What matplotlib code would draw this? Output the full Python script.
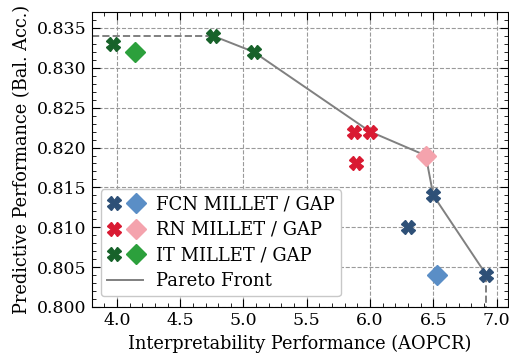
import matplotlib
matplotlib.use("Agg")
import matplotlib.pyplot as plt
from matplotlib.legend_handler import HandlerTuple
from matplotlib.ticker import MultipleLocator

plt.rcParams["font.family"] = "DejaVu Serif"
plt.rcParams["mathtext.fontset"] = "dejavuserif"

# MILLET (X) and GAP (diamond) results per backbone: AOPCR, balanced accuracy
fcn_millet_x = [6.50, 6.30, 6.92]
fcn_millet_y = [0.814, 0.810, 0.804]
fcn_gap_x = [6.53]
fcn_gap_y = [0.804]

rn_millet_x = [5.87, 6.00, 5.89]
rn_millet_y = [0.822, 0.822, 0.818]
rn_gap_x = [6.44]
rn_gap_y = [0.819]

it_millet_x = [3.97, 4.76, 5.08]
it_millet_y = [0.833, 0.834, 0.832]
it_gap_x = [4.14]
it_gap_y = [0.832]

pareto_x = [4.76, 5.08, 6.00, 6.44, 6.50, 6.92]
pareto_y = [0.834, 0.832, 0.822, 0.819, 0.814, 0.804]

labels = ["FCN MILLET / GAP", "RN MILLET / GAP", "IT MILLET / GAP"]
millet_colors = ["#2e5077", "#d91a32", "#17622a"]
gap_colors = ["#5a8ec6", "#f4a3ad", "#2ca03c"]

xlim = (3.80, 7.09)
ylim = (0.800, 0.837)

fig = plt.figure(figsize=(5.09, 3.58), dpi=100)
ax = fig.add_axes([0.180, 0.1425, 0.818, 0.824])

ax.grid(True, ls="--", color="#9a9a9a", lw=0.8)
ax.set_axisbelow(True)

# pareto front with dashed extensions to the axes
ax.plot(pareto_x, pareto_y, color="#808080", lw=1.4, zorder=2)
ax.plot([xlim[0], pareto_x[0]], [pareto_y[0], pareto_y[0]], color="#808080", lw=1.4, ls="--", zorder=2)
ax.plot([pareto_x[-1], pareto_x[-1]], [pareto_y[-1], ylim[0]], color="#808080", lw=1.4, ls="--", zorder=2)

groups = [
    (fcn_millet_x, fcn_millet_y, fcn_gap_x, fcn_gap_y),
    (rn_millet_x, rn_millet_y, rn_gap_x, rn_gap_y),
    (it_millet_x, it_millet_y, it_gap_x, it_gap_y),
]
handles = []
for (mx, my, gx, gy), mc, gc in zip(groups, millet_colors, gap_colors):
    hm, = ax.plot(mx, my, ls="none", marker="X", ms=10, color=mc, mec=mc, zorder=3)
    hg, = ax.plot(gx, gy, ls="none", marker="D", ms=10, color=gc, mec=gc, zorder=3)
    handles.append((hm, hg))
pareto_handle, = ax.plot([], [], color="#808080", lw=1.4)

ax.legend(handles + [pareto_handle], labels + ["Pareto Front"],
          handler_map={tuple: HandlerTuple(ndivide=None, pad=0.5)},
          loc="lower left", bbox_to_anchor=(0.0, 0.005), fontsize=13,
          frameon=True, edgecolor="#c8c8c8", framealpha=1.0,
          handlelength=2.0, handletextpad=0.7, labelspacing=0.42, borderpad=0.35)

ax.set_xlim(*xlim)
ax.set_ylim(*ylim)
ax.xaxis.set_major_locator(MultipleLocator(0.5))
ax.xaxis.set_minor_locator(MultipleLocator(0.1))
ax.yaxis.set_major_locator(MultipleLocator(0.005))
ax.yaxis.set_minor_locator(MultipleLocator(0.001))
ax.yaxis.set_major_formatter(plt.FormatStrFormatter("%.3f"))
ax.tick_params(which="both", direction="in", top=True, right=True, labelsize=12.5)
ax.tick_params(which="major", length=6)
ax.tick_params(which="minor", length=3)

ax.set_xlabel("Interpretability Performance (AOPCR)", fontsize=12.8)
ax.set_ylabel("Predictive Performance (Bal. Acc.)", fontsize=12.8)

fig.savefig("out.png", dpi=100)
